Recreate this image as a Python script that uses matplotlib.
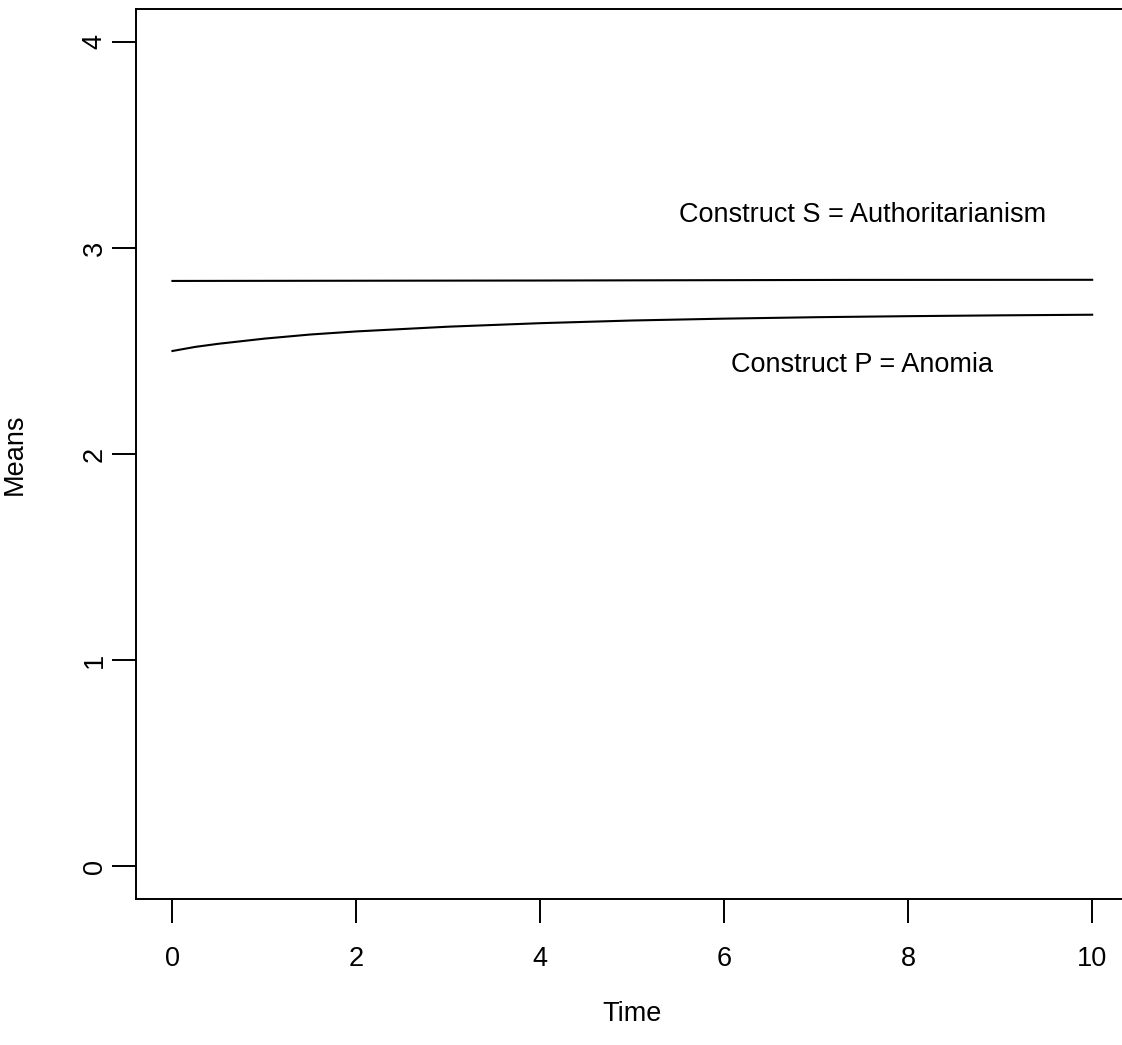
import numpy as np
import matplotlib
matplotlib.use("Agg")
from matplotlib import pyplot as plt

plt.rcParams["font.family"] = ["Liberation Sans", "DejaVu Sans"]

# values
time_p = [0, 0.25, 0.5, 1, 1.5, 2, 3, 4, 5, 6, 7, 8, 9, 10]
means_p = [2.50, 2.52, 2.535, 2.56, 2.58, 2.595, 2.618, 2.635, 2.648, 2.657, 2.664, 2.669, 2.673, 2.676]
time_s = [0, 4, 7.36, 10]
means_s = [2.8400, 2.8420, 2.8450, 2.8455]

label_s = "Construct S = Authoritarianism"
label_p = "Construct P = Anomia"
xticks = [0, 2, 4, 6, 8, 10]
yticks = [0, 1, 2, 3, 4]

fig = plt.figure(figsize=(11.22, 10.45), dpi=100)
ax = fig.add_axes([0.1209, 0.1397, 0.8853, 0.8517])

ax.plot(time_s, means_s, color="black", lw=1.5)
ax.plot(time_p, means_p, color="black", lw=1.5)

ax.text(7.5, 3.16, label_s, ha="center", va="center", fontsize=19.5)
ax.text(7.5, 2.43, label_p, ha="center", va="center", fontsize=19.5)

ax.set_xlim(-0.4, 10.4)
ax.set_ylim(-0.16, 4.16)
ax.set_xticks(xticks)
ax.set_yticks(yticks)
ax.set_yticklabels([str(v) for v in yticks], rotation=90, va="center")
ax.tick_params(length=17, width=1.4, labelsize=19.5, color="black")
ax.tick_params(axis="x", pad=17)
ax.tick_params(axis="y", pad=3)
for s in ax.spines.values():
    s.set_linewidth(1.4)

ax.set_xlabel("Time", fontsize=19.5, labelpad=21)
ax.set_ylabel("Means", fontsize=19.5, labelpad=39)

fig.savefig("out.png", dpi=100, facecolor="white")
